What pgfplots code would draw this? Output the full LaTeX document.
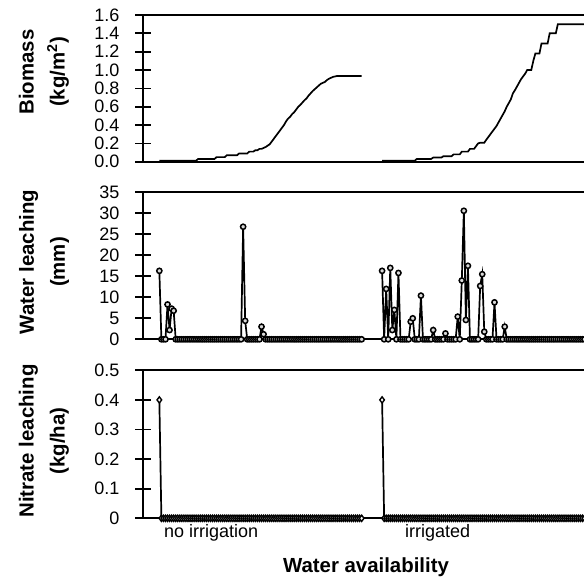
\documentclass[border=0pt]{standalone}
\usepackage{fontspec}
\setmainfont{Liberation Sans}
\usepackage{pgfplots}
\usepackage{pgfplotstable}
\pgfplotsset{compat=1.18}

% no irrigation: day, biomass (kg/m2), water leaching (mm), nitrate leaching (kg/ha)
\pgfplotstableread{
d bio wat nit
1 0.012 16.3 0.4
2 0.012 0 0
3 0.012 0 0
4 0.012 0 0
5 0.012 8.3 0
6 0.012 2.2 0
7 0.012 7.3 0
8 0.012 6.8 0
9 0.012 0 0
10 0.012 0 0
11 0.012 0 0
12 0.012 0 0
13 0.012 0 0
14 0.012 0 0
15 0.012 0 0
16 0.012 0 0
17 0.012 0 0
18 0.012 0 0
19 0.012 0 0
20 0.03 0 0
21 0.03 0 0
22 0.03 0 0
23 0.03 0 0
24 0.03 0 0
25 0.03 0 0
26 0.03 0 0
27 0.03 0 0
28 0.03 0 0
29 0.05 0 0
30 0.05 0 0
31 0.05 0 0
32 0.05 0 0
33 0.05 0 0
34 0.07 0 0
35 0.07 0 0
36 0.07 0 0
37 0.07 0 0
38 0.07 0 0
39 0.07 0 0
40 0.09 0 0
41 0.09 0 0
42 0.09 26.8 0
43 0.09 4.4 0
44 0.09 0 0
45 0.11 0 0
46 0.11 0 0
47 0.11 0 0
48 0.125 0 0
49 0.125 0 0
50 0.14 0 0
51 0.14 3.0 0
52 0.15 1.2 0
53 0.16 0 0
54 0.175 0 0
55 0.19 0 0
56 0.22 0 0
57 0.25 0 0
58 0.28 0 0
59 0.31 0 0
60 0.34 0 0
61 0.37 0 0
62 0.40 0 0
63 0.44 0 0
64 0.47 0 0
65 0.49 0 0
66 0.52 0 0
67 0.54 0 0
68 0.57 0 0
69 0.60 0 0
70 0.62 0 0
71 0.645 0 0
72 0.67 0 0
73 0.69 0 0
74 0.72 0 0
75 0.745 0 0
76 0.77 0 0
77 0.79 0 0
78 0.81 0 0
79 0.83 0 0
80 0.85 0 0
81 0.86 0 0
82 0.87 0 0
83 0.89 0 0
84 0.905 0 0
85 0.915 0 0
86 0.925 0 0
87 0.93 0 0
88 0.935 0 0
89 0.935 0 0
90 0.935 0 0
91 0.935 0 0
92 0.935 0 0
93 0.935 0 0
94 0.935 0 0
95 0.935 0 0
96 0.935 0 0
97 0.935 0 0
98 0.935 0 0
99 0.935 0 0
100 0.935 0 0
}\noirr

% irrigated
\pgfplotstableread{
d bio wat nit
1 0.012 16.3 0.4
2 0.012 0 0
3 0.012 12.0 0
4 0.012 0 0
5 0.012 17.0 0
6 0.012 2.2 0
7 0.012 7.0 0
8 0.012 0 0
9 0.012 15.8 0
10 0.012 0 0
11 0.012 0 0
12 0.012 0 0
13 0.012 0 0
14 0.012 0 0
15 0.012 4.2 0
16 0.012 5.0 0
17 0.012 0 0
18 0.03 0 0
19 0.03 0 0
20 0.03 10.4 0
21 0.03 0 0
22 0.03 0 0
23 0.03 0 0
24 0.03 0 0
25 0.03 0 0
26 0.045 2.2 0
27 0.045 0 0
28 0.045 0 0
29 0.045 0 0
30 0.045 0 0
31 0.06 0 0
32 0.06 1.4 0
33 0.06 0 0
34 0.06 0 0
35 0.06 0 0
36 0.08 0 0
37 0.08 0 0
38 0.08 5.4 0
39 0.08 0 0
40 0.11 14.0 0
41 0.11 30.6 0
42 0.11 4.6 0
43 0.11 17.5 0
44 0.14 0 0
45 0.14 0 0
46 0.14 0 0
47 0.17 0 0
48 0.20 0 0
49 0.207 12.7 0
50 0.207 15.5 0
51 0.207 1.8 0
52 0.24 0 0
53 0.27 0 0
54 0.30 0 0
55 0.33 0 0
56 0.36 8.8 0
57 0.39 0 0
58 0.43 0 0
59 0.47 0 0
60 0.51 0 0
61 0.55 3.0 0
62 0.60 0 0
63 0.64 0 0
64 0.68 0 0
65 0.745 0 0
66 0.78 0 0
67 0.82 0 0
68 0.86 0 0
69 0.90 0 0
70 0.93 0 0
71 0.96 0 0
72 1.00 0 0
73 1.00 0 0
74 1.00 0 0
75 1.10 0 0
76 1.18 0 0
77 1.18 0 0
78 1.18 0 0
79 1.29 0 0
80 1.29 0 0
81 1.29 0 0
82 1.29 0 0
83 1.40 0 0
84 1.40 0 0
85 1.40 0 0
86 1.40 0 0
87 1.50 0 0
88 1.50 0 0
89 1.50 0 0
90 1.50 0 0
91 1.50 0 0
92 1.50 0 0
93 1.50 0 0
94 1.50 0 0
95 1.50 0 0
96 1.50 0 0
97 1.50 0 0
98 1.50 0 0
99 1.50 0 0
100 1.50 0 0
}\irr

\pgfplotsset{panel/.style={
  scale only axis, width=441pt, xmin=-7, xmax=208.8,
  axis x line=box, axis y line=left,
  axis line style={-, line width=1.7pt},
  xtick=\empty,
  tick align=center, major tick length=15pt,
  every tick/.style={black, line width=1.7pt},
  yticklabel style={font=\fontsize{18}{20}\selectfont, inner sep=0pt, anchor=east, xshift=-16pt},
  /pgf/number format/assume math mode=true,
  clip=false,
}}

\begin{document}
\begin{tikzpicture}
\useasboundingbox (0pt,0pt) rectangle (584pt,-579pt);

\begin{axis}[panel, at={(143pt,-161.7pt)}, anchor=south west, height=146.7pt,
  ymin=0, ymax=1.6, ytick={0,0.2,0.4,0.6,0.8,1.0,1.2,1.4,1.6},
  yticklabel style={/pgf/number format/.cd, fixed, fixed zerofill, precision=1}]
\addplot[black, line width=1.7pt, no markers] table[x=d, y=bio] {\noirr};
\addplot[black, line width=1.7pt, no markers] table[x expr=\thisrow{d}+109, y=bio] {\irr};
\end{axis}

\begin{axis}[panel, at={(143pt,-339.3pt)}, anchor=south west, height=147pt,
  ymin=0, ymax=35, ytick={0,5,10,15,20,25,30,35}]
\addplot[black, line width=1.7pt, no markers] coordinates {(100,0) (110,0)};
\addplot[black, line width=1.7pt, mark=*, mark size=2.6pt, mark options={fill=white!85!black, draw=black, line width=1.5pt}] table[x=d, y=wat] {\noirr};
\addplot[black, line width=1.7pt, mark=*, mark size=2.6pt, mark options={fill=white!85!black, draw=black, line width=1.5pt}] table[x expr=\thisrow{d}+109, y=wat] {\irr};
\end{axis}

\begin{axis}[panel, at={(143pt,-518.3pt)}, anchor=south west, height=148pt,
  ymin=0, ymax=0.5, ytick={0,0.1,0.2,0.3,0.4,0.5}]
\addplot[black, line width=1.7pt, no markers] coordinates {(100,0) (110,0)};
\addplot[black, line width=1.7pt, mark=diamond*, mark size=3.1pt, mark options={fill=white, draw=black, line width=1.4pt}] table[x=d, y=nit] {\noirr};
\addplot[black, line width=1.7pt, mark=diamond*, mark size=3.1pt, mark options={fill=white, draw=black, line width=1.4pt}] table[x expr=\thisrow{d}+109, y=nit] {\irr};
\end{axis}

\node[rotate=90, align=center, font=\fontsize{20.4}{31}\selectfont\bfseries] at (44pt,-72pt) {Biomass\\(kg/m\textsuperscript{2})};
\node[rotate=90, align=center, font=\fontsize{20.4}{31}\selectfont\bfseries] at (44pt,-262pt) {Water leaching\\(mm)};
\node[rotate=90, align=center, font=\fontsize{20.4}{31}\selectfont\bfseries] at (44pt,-441pt) {Nitrate leaching\\(kg/ha)};

\node[anchor=base west, inner sep=0pt, font=\fontsize{18}{20}\selectfont] at (164pt,-537pt) {no irrigation};
\node[anchor=base west, inner sep=0pt, font=\fontsize{18}{20}\selectfont] at (405pt,-537pt) {irrigated};
\node[anchor=base, inner sep=0pt, font=\fontsize{20.4}{24}\selectfont\bfseries] at (366pt,-572pt) {Water availability};
\end{tikzpicture}
\end{document}
